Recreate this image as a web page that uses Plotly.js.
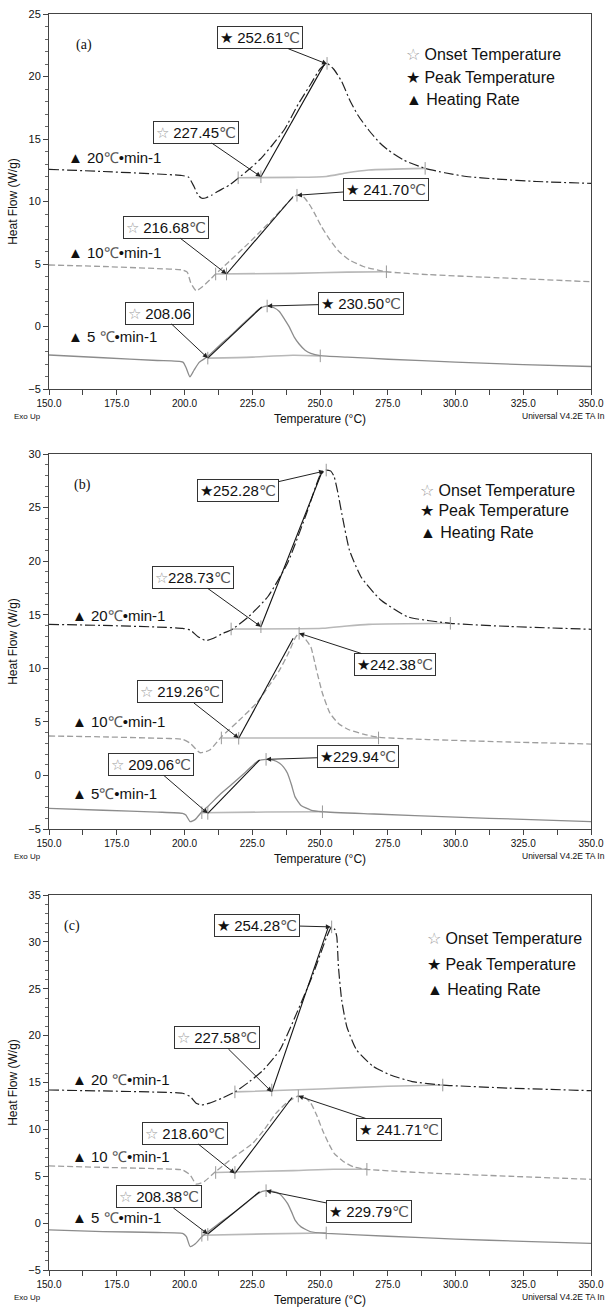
<!DOCTYPE html>
<html><head><meta charset="utf-8">
<script src="https://cdn.plot.ly/plotly-3.0.1.min.js"></script>
<style>html,body{margin:0;padding:0;background:#fff}#chart{width:609px;height:1309px}</style>
</head><body><div id="chart"></div>
<script>
// ---------------- DATA ----------------
// Panel (a)
const tA20 = [150,170,190,199,201.5,203.5,205,206.4,208,210,212.2,216.5,220,224,228,232,237,242,246.6,250,252.6,255,258,261,264,268,272,275.2,281,288.8,296,304,315,330,350];
const fA20 = [12.57,12.4,12.2,12.08,11.95,11.2,10.5,10.26,10.3,10.5,10.8,11.3,11.9,12.6,13.4,14.4,15.8,17.8,19.4,20.6,21.05,20.6,19.6,18.1,16.9,15.7,14.7,14.1,13.3,12.65,12.3,12.0,11.8,11.6,11.45];
const tA10 = [150,170,190,199.3,201,202.3,204.3,206.4,209.3,211.5,216,223.6,228,232.2,236,239,241.5,244,246,248,250.5,253.7,257,260.9,266,274.5,290,310,330,350];
const fA10 = [4.92,4.8,4.63,4.52,4.35,3.5,2.86,3.14,3.72,4.2,5.1,6.65,7.6,8.52,9.4,10.1,10.52,10.35,9.8,9.05,8.0,6.92,6.0,5.32,4.8,4.38,4.15,3.95,3.77,3.58];
const tA5 = [150,170,190,199.4,200.6,202,203.5,205.5,208.6,213,217.9,223,227.9,230.5,233,235,237,238.7,240.5,242.3,244.5,246.6,250.1,260,275.2,300,325,350];
const fA5 = [-2.28,-2.5,-2.72,-2.85,-3.3,-4.02,-3.5,-2.85,-2.4,-1.5,-0.55,0.5,1.45,1.64,1.5,1.2,0.55,-0.05,-0.85,-1.4,-1.9,-2.15,-2.33,-2.45,-2.62,-2.85,-3.05,-3.2];
const baseTA20 = [219.8,240,252.3,260,268,288.8], baseFA20 = [11.9,11.93,12.0,12.3,12.52,12.65];
const baseTA10 = [211.5,240,260,274.5], baseFA10 = [4.2,4.25,4.35,4.38];
const baseTA5 = [208.6,225,240,250.1], baseFA5 = [-2.53,-2.45,-2.3,-2.35];
const tanTA20 = [228.2,251.6], tanFA20 = [11.98,20.97];
const tanTA10 = [215.5,240.1], tanFA10 = [4.2,10.4];
const tanTA5 = [208.6,228.5], tanFA5 = [-2.53,1.56];
const tickTA = [219.8,228.2,288.8,252.6,211.5,215.5,274.5,241.5,208.6,250.1,230.5];
const tickFA = [11.9,11.98,12.65,21.05,4.2,4.2,4.38,10.5,-2.53,-2.35,1.64];
const lblA = ['★ 252.61℃','☆ 227.45℃','★ 241.70℃','☆ 216.68℃','☆ 208.06','★ 230.50℃'];
const tipTA = [252.6,228.2,241.5,215.5,208.6,230.5];
const tipFA = [21.0,11.98,10.5,4.2,-2.53,1.64];
const rateA = ['▲ 20℃•min-1','▲ 10℃•min-1','▲ 5 ℃•min-1'];

// Panel (b)
const tB20 = [150,170,190,199.3,202.1,205,207.9,210.7,214.3,217.2,223.6,230.8,238,245.1,250.1,252.3,254,255.2,256.5,258,260.9,265.2,272.3,282.4,298.1,320,350];
const fB20 = [14.1,14.0,13.85,13.73,13.57,12.95,12.58,12.8,13.27,13.57,14.8,16.7,19.8,24.5,28.04,28.5,28.4,27.9,26.5,24.5,21.0,18.5,16.4,14.8,14.2,13.9,13.64];
const tB10 = [150,170,190,199.3,202.1,205.7,209.3,213.6,220,226.5,231,235.1,238.5,241,242.3,244,246.6,248.7,250.9,253.7,257,260.9,266,271.6,290,320,350];
const fB10 = [3.68,3.6,3.47,3.37,3.0,2.12,2.37,3.6,5.1,6.73,8.3,9.84,11.5,12.9,13.27,12.9,12.0,9.84,7.67,5.8,4.8,4.24,3.85,3.56,3.35,3.12,2.93];
const tB5 = [150,170,190,199.3,200.5,202.1,204,206.4,209,213,217.9,222.5,227.2,230.1,233,235.1,236.5,238,239.5,240.8,243,246.6,250.9,270,300,325,350];
const fB5 = [-3.07,-3.25,-3.42,-3.54,-3.7,-4.32,-4.1,-3.39,-2.8,-1.8,-0.74,0.3,1.37,1.5,1.4,1.13,0.8,0.2,-0.9,-2.0,-2.8,-3.23,-3.39,-3.6,-3.9,-4.1,-4.32];
const baseTB20 = [217.2,250.9,260,268,298.1], baseFB20 = [13.67,13.73,13.95,14.1,14.2];
const baseTB10 = [213.6,271.6], baseFB10 = [3.5,3.5];
const baseTB5 = [206.4,230,250.9], baseFB5 = [-3.48,-3.42,-3.39];
const tanTB20 = [228.2,250.9], tanFB20 = [13.88,28.44];
const tanTB10 = [220,240.1], tanFB10 = [3.47,12.8];
const tanTB5 = [208.6,227.7], tanFB5 = [-3.54,1.44];
const tickTB = [217.2,228.2,298.1,252.3,213.6,220,271.6,242.3,206.4,208.6,250.9,230.1];
const tickFB = [13.67,13.88,14.2,28.5,3.5,3.47,3.5,13.27,-3.48,-3.54,-3.39,1.5];
const lblB = ['★252.28℃','☆228.73℃','★242.38℃','☆ 219.26℃','☆ 209.06℃','★229.94℃'];
const tipTB = [251.5,228.2,242.3,220,208.6,230.1];
const tipFB = [28.4,13.88,13.27,3.47,-3.54,1.5];
const rateB = ['▲ 20℃•min-1','▲ 10℃•min-1','▲ 5℃•min-1'];

// Panel (c)
const tC20 = [150,170,190,199.3,202.1,204.3,206.3,209.3,213.6,218.6,224,229.1,235.2,241.4,247.5,252.5,254.3,255.5,256.2,256.8,258,259.9,263.5,269.7,276,284,295.3,320,350];
const fC20 = [14.2,14.1,13.97,13.85,13.5,12.8,12.6,12.8,13.3,14.0,15.1,16.33,18.47,22.4,26.6,30.55,31.6,31.3,30.55,27.35,23.8,20.95,18.47,16.7,15.8,15.1,14.73,14.4,14.13];
const tC10 = [150,170,190,199.3,202.1,204.3,207.2,211.5,218,225.1,229.5,233.7,238,242,244.5,246.6,248.8,250.9,253,255.2,258.5,262.3,267.3,290,320,350];
const fC10 = [6.1,5.95,5.8,5.67,5.13,4.17,4.42,5.5,7.0,8.5,10.0,11.7,12.9,13.56,13.4,12.8,11.5,9.93,8.6,7.45,6.6,6.0,5.74,5.35,5.0,4.67];
const tC5 = [150,170,190,199.3,200.7,202.1,204,206.4,212,217.9,223,227.2,230.1,233,235.1,236.5,238,239.5,240.8,243,246.6,252.3,275,300,325,350];
const fC5 = [-0.73,-0.9,-1.0,-1.09,-1.45,-2.5,-2.2,-1.45,-0.2,1.04,2.2,3.18,3.46,3.35,3.1,2.7,2.1,1.2,0.33,-0.4,-0.92,-1.09,-1.4,-1.7,-1.95,-2.15];
const baseTC20 = [218.6,250,275,295.3], baseFC20 = [14.0,14.3,14.6,14.73];
const baseTC10 = [211.5,240,255,267.3], baseFC10 = [5.4,5.6,5.75,5.74];
const baseTC5 = [206.4,230,252.3], baseFC5 = [-1.3,-1.15,-1.05];
const tanTC20 = [232.2,253.1], tanFC20 = [14.0,31.6];
const tanTC10 = [218.6,239.7], tanFC10 = [5.3,13.4];
const tanTC5 = [208.6,227.7], tanFC5 = [-1.16,3.35];
const tickTC = [218.6,232.2,295.3,254.3,211.5,218.6,267.3,242,206.4,208.6,252.3,230.1];
const tickFC = [14.0,14.2,14.73,31.6,5.4,5.4,5.74,13.56,-1.3,-1.2,-1.05,3.46];
const lblC = ['★ 254.28℃','☆ 227.58℃','★ 241.71℃','☆ 218.60℃','☆ 208.38℃','★ 229.79℃'];
const tipTC = [254.0,232.2,242,218.6,208.6,230.1];
const tipFC = [31.6,14.0,13.56,5.3,-1.16,3.46];
const rateC = ['▲ 20 ℃•min-1','▲ 10 ℃•min-1','▲ 5 ℃•min-1'];

const panelNames = ['(a)','(b)','(c)'];
const legendTexts = ['☆ Onset Temperature','★ Peak Temperature','▲ Heating Rate'];

// ---------------- LAYOUT / STYLE ----------------
const W = 609, H = 1309, ML = 49, MR = 18;
const FONT = 'Liberation Sans, Arial, Helvetica, sans-serif';
const domainsPx = [[14,389],[454,829],[895,1270]];
const yRanges = [[-5,25],[-5,30],[-5,35]];
// label box centres (layout placement, in axis units)
const boxPos = [
  [[228.0,23.1],[204.1,15.56],[274.4,11.0],[193.1,7.96],[190.9,1.08],[265.3,1.84]],
  [[219.8,26.55],[203,18.47],[277.8,10.35],[198.3,7.79],[187.7,1.02],[264,1.77]],
  [[226.9,31.8],[212.1,19.75],[279.1,9.99],[200,9.61],[190.5,2.8],[267.9,1.24]]
];
const ratePos = [[156.3,[13.56,5.96,-0.76]],[157.7,[14.97,4.99,-1.64]],[157.7,[15.27,7.16,0.65]]];
const legPos = [[281,[21.8,19.96,18.2]],[286,[26.55,24.68,22.72]],[288.8,[30.41,27.64,24.97]]];
const tagPos = [[159.2,22.5],[158.5,27.1],[154.9,31.7]];

const panels = [
  {c20:[tA20,fA20],c10:[tA10,fA10],c5:[tA5,fA5],b:[[baseTA20,baseFA20],[baseTA10,baseFA10],[baseTA5,baseFA5]],
   tan:[[tanTA20,tanFA20],[tanTA10,tanFA10],[tanTA5,tanFA5]],tick:[tickTA,tickFA],lbl:lblA,tip:[tipTA,tipFA],rate:rateA},
  {c20:[tB20,fB20],c10:[tB10,fB10],c5:[tB5,fB5],b:[[baseTB20,baseFB20],[baseTB10,baseFB10],[baseTB5,baseFB5]],
   tan:[[tanTB20,tanFB20],[tanTB10,tanFB10],[tanTB5,tanFB5]],tick:[tickTB,tickFB],lbl:lblB,tip:[tipTB,tipFB],rate:rateB},
  {c20:[tC20,fC20],c10:[tC10,fC10],c5:[tC5,fC5],b:[[baseTC20,baseFC20],[baseTC10,baseFC10],[baseTC5,baseFC5]],
   tan:[[tanTC20,tanFC20],[tanTC10,tanFC10],[tanTC5,tanFC5]],tick:[tickTC,tickFC],lbl:lblC,tip:[tipTC,tipFC],rate:rateC}
];

const starStyle = s => s.replace('☆','<span style="color:#9a9a9a">☆</span>')
                        .replace('℃','<span style="color:#555">℃</span>');
const traces = [];
const annotations = [];
const layout = {
  width: W, height: H, margin: {l: ML, r: MR, t: 0, b: 0},
  paper_bgcolor: '#fff', plot_bgcolor: '#fff', showlegend: false,
  font: {family: FONT, color: '#111'}
};

panels.forEach((p, i) => {
  const sfx = i === 0 ? '' : String(i + 1);
  const xa = 'x' + sfx, ya = 'y' + sfx;
  const common = {xaxis: xa, yaxis: ya, hoverinfo: 'skip', showlegend: false, type: 'scatter'};
  // baselines
  p.b.forEach(b => traces.push(Object.assign({x: b[0], y: b[1], mode: 'lines',
    line: {color: '#b8b8b8', width: 1.6, shape: 'spline', smoothing: 0.6}}, common)));
  // curves
  traces.push(Object.assign({x: p.c5[0], y: p.c5[1], mode: 'lines', name: '5 °C/min',
    line: {color: '#8c8c8c', width: 1.3, shape: 'spline', smoothing: 0.5}}, common));
  traces.push(Object.assign({x: p.c10[0], y: p.c10[1], mode: 'lines', name: '10 °C/min',
    line: {color: '#9e9e9e', width: 1.3, dash: '6px,3px', shape: 'spline', smoothing: 0.5}}, common));
  traces.push(Object.assign({x: p.c20[0], y: p.c20[1], mode: 'lines', name: '20 °C/min',
    line: {color: '#222', width: 1.2, dash: '10px,3px,2px,3px', shape: 'spline', smoothing: 0.5}}, common));
  // tangents
  p.tan.forEach(t => traces.push(Object.assign({x: t[0], y: t[1], mode: 'lines',
    line: {color: '#111', width: 1.1}}, common)));
  // tick marks on baselines / peaks
  traces.push(Object.assign({x: p.tick[0], y: p.tick[1], mode: 'markers',
    marker: {symbol: 'line-ns-open', size: 9, color: '#999', line: {color: '#999', width: 1}}}, common));

  const top = domainsPx[i][0], bot = domainsPx[i][1];
  const d0 = 1 - bot / H, d1 = 1 - top / H;
  layout['xaxis' + sfx] = {
    domain: [0, 1], anchor: ya, range: [150, 350], tick0: 150, dtick: 25, tickformat: '.1f',
    ticks: 'outside', ticklen: 5, tickwidth: 1, tickcolor: '#444',
    minor: {dtick: 12.5, tick0: 150, ticks: 'outside', ticklen: 5, tickcolor: '#444'},
    showline: true, mirror: true, linecolor: '#444', linewidth: 1, showgrid: false, zeroline: false,
    tickfont: {size: 10, family: FONT, color: '#111'},
    title: {text: 'Temperature (°C)', font: {size: 12, family: FONT, color: '#111'}, standoff: 6}
  };
  layout['yaxis' + sfx] = {
    domain: [d0, d1], anchor: xa, range: yRanges[i], dtick: 5,
    ticks: 'outside', ticklen: 5, tickwidth: 1, tickcolor: '#444',
    minor: {dtick: 1, ticks: 'outside', ticklen: 3, tickcolor: '#666'},
    showline: true, mirror: true, linecolor: '#444', linewidth: 1, showgrid: false, zeroline: false,
    tickfont: {size: 11, family: FONT, color: '#111'},
    title: {text: 'Heat Flow (W/g)', font: {size: 12, family: FONT, color: '#111'}, standoff: 8}
  };

  // value label boxes
  p.lbl.forEach((txt, k) => {
    annotations.push({x: p.tip[0][k], y: p.tip[1][k], xref: xa, yref: ya,
      ax: boxPos[i][k][0], ay: boxPos[i][k][1], axref: xa, ayref: ya,
      text: starStyle(txt), showarrow: true, arrowhead: 2, arrowsize: 1, arrowwidth: 1, arrowcolor: '#222',
      bordercolor: '#333', borderwidth: 1, borderpad: 2, bgcolor: '#fff',
      font: {family: FONT, size: 15, color: '#111'}});
  });
  // heating rate labels
  p.rate.forEach((txt, k) => annotations.push({x: ratePos[i][0], y: ratePos[i][1][k], xref: xa, yref: ya,
    text: txt.replace('℃','<span style="color:#555">℃</span>'), showarrow: false, xanchor: 'left',
    font: {family: FONT, size: 15, color: '#111'}}));
  // in-plot legend texts
  legendTexts.forEach((txt, k) => annotations.push({x: legPos[i][0], y: legPos[i][1][k], xref: xa, yref: ya,
    text: starStyle(txt), showarrow: false, xanchor: 'left', font: {family: FONT, size: 16, color: '#111'}}));
  // panel tag
  annotations.push({x: tagPos[i][0], y: tagPos[i][1], xref: xa, yref: ya, text: panelNames[i],
    showarrow: false, xanchor: 'left', font: {family: 'Liberation Serif, Times New Roman, serif', size: 14, color: '#111'}});
  // footer texts
  const fy = 1 - (bot + 27) / H;
  annotations.push({x: (12 - ML) / (W - ML - MR), y: fy, xref: 'paper', yref: 'paper', text: 'Exo Up',
    showarrow: false, xanchor: 'left', yanchor: 'middle', font: {family: FONT, size: 8, color: '#111'}});
  annotations.push({x: (607 - ML) / (W - ML - MR), y: fy, xref: 'paper', yref: 'paper', text: 'Universal V4.2E TA In',
    showarrow: false, xanchor: 'right', yanchor: 'middle', font: {family: FONT, size: 8.5, color: '#111'}});
});
layout.annotations = annotations;

Plotly.newPlot('chart', traces, layout, {staticPlot: true, displayModeBar: false});
</script></body></html>
